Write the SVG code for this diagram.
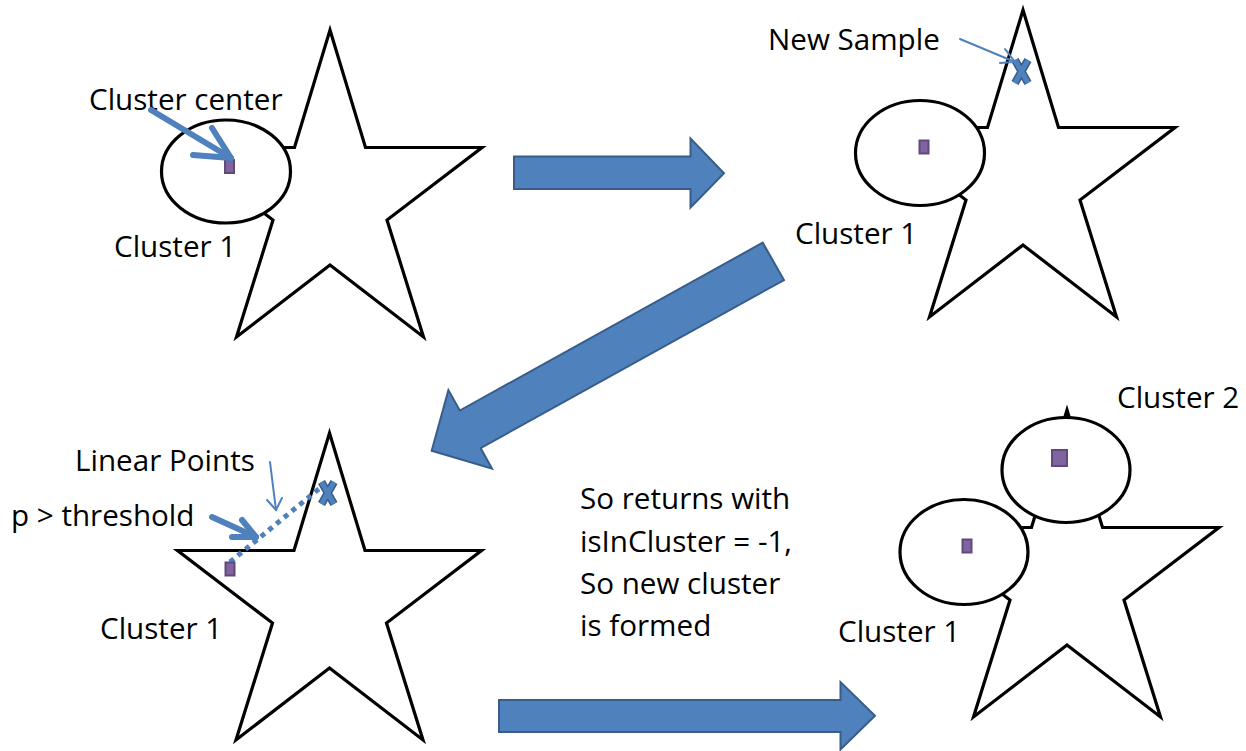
<svg xmlns="http://www.w3.org/2000/svg" width="1246" height="751" viewBox="0 0 1246 751">
  <style>
    .star { fill: #ffffff; stroke: #000000; stroke-width: 3.2; stroke-linejoin: miter; }
    .zone { fill: #ffffff; stroke: #000000; stroke-width: 3.2; }
    .center { fill: #8064a2; stroke: #5f4a7a; stroke-width: 2; }
    .label { font-family: "Open Sans", "Liberation Sans", sans-serif; font-size: 29.6px; fill: #000000; }
    .bigarrow { fill: #4f81bd; stroke: #385d8a; stroke-width: 2; stroke-linejoin: miter; }
    .pointer { fill: none; stroke: #4f81bd; stroke-width: 6; stroke-linecap: round; stroke-linejoin: round; }
    .thin { fill: none; stroke: #4f81bd; stroke-width: 2; stroke-linecap: round; }
    .xout { fill: none; stroke: #385d8a; stroke-width: 8; stroke-linecap: butt; }
    .xin { fill: none; stroke: #4f81bd; stroke-width: 5; stroke-linecap: butt; }
    .dots { fill: none; stroke: #4f81bd; stroke-width: 5; stroke-dasharray: 5 5; }
  </style>
  <defs>
    <path id="star5" d="M152,0 L187.5,117.5 L304,117.5 L209,190 L245.5,307 L152,235 L58.5,307 L95,190 L0,117.5 L116.5,117.5 Z"/>
  </defs>
  <rect width="1246" height="751" fill="#ffffff"/>

  <!-- step 1: first cluster and its center -->
  <g id="step1">
    <use href="#star5" class="star" transform="translate(178,30)"/>
    <ellipse class="zone" cx="226" cy="171.5" rx="64.5" ry="51.5"/>
    <rect class="center" x="225" y="160" width="9" height="13"/>
    <text class="label" x="89" y="110">Cluster center</text>
    <text class="label" x="114" y="257">Cluster 1</text>
    <g class="pointer">
      <line x1="151" y1="110" x2="231" y2="158"/>
      <polyline points="193,155 231,158 212,128"/>
    </g>
  </g>

  <!-- step 2: a new sample arrives -->
  <g id="step2">
    <use href="#star5" class="star" transform="translate(871,10)"/>
    <ellipse class="zone" cx="920" cy="153" rx="64.5" ry="52.5"/>
    <rect class="center" x="919.5" y="140.5" width="9" height="13"/>
    <g>
      <path class="xout" d="M1015,60 L1028,83 M1028,60 L1015,83"/>
      <path class="xin" d="M1015,60 L1028,83 M1028,60 L1015,83"/>
    </g>
    <text class="label" x="768" y="50">New Sample</text>
    <text class="label" x="795" y="244">Cluster 1</text>
    <g class="thin">
      <line x1="960" y1="39" x2="1015" y2="62"/>
      <polyline points="1005,49 1015,62 1000,63"/>
    </g>
  </g>

  <!-- step 3: distance check along the linear points -->
  <g id="step3">
    <use href="#star5" class="star" transform="translate(177.5,433)"/>
    <line class="dots" x1="230" y1="562" x2="320" y2="488"/>
    <g>
      <path class="xout" d="M321.5,482 L334,504 M334,482 L321.5,504"/>
      <path class="xin" d="M321.5,482 L334,504 M334,482 L321.5,504"/>
    </g>
    <rect class="center" x="225.5" y="562.5" width="9" height="13"/>
    <text class="label" x="75" y="471">Linear Points</text>
    <text class="label" x="11" y="526">p &gt; threshold</text>
    <text class="label" x="100" y="639">Cluster 1</text>
    <g class="pointer">
      <line x1="212" y1="517" x2="256" y2="537"/>
      <polyline points="232,537 256,537 242,520"/>
    </g>
    <g class="thin">
      <line x1="270" y1="462" x2="276" y2="510"/>
      <polyline points="267,500 276,510 282,498"/>
    </g>
  </g>

  <!-- explanation -->
  <g id="note">
    <text class="label" x="580" y="509">So returns with</text>
    <text class="label" x="580" y="552">isInCluster = -1,</text>
    <text class="label" x="580" y="594">So new cluster</text>
    <text class="label" x="580" y="636">is formed</text>
  </g>

  <!-- step 4: second cluster created -->
  <g id="step4">
    <use href="#star5" class="star" transform="translate(915,410)"/>
    <ellipse class="zone" cx="964" cy="552" rx="64" ry="52.5"/>
    <ellipse class="zone" cx="1066" cy="470" rx="64" ry="52.5"/>
    <rect class="center" x="962.5" y="539.5" width="9" height="13"/>
    <rect class="center" x="1052" y="450" width="15" height="16"/>
    <text class="label" x="1117" y="408">Cluster 2</text>
    <text class="label" x="838" y="642">Cluster 1</text>
  </g>

  <!-- flow between the steps -->
  <g id="connectors">
    <polygon class="bigarrow" points="514,156.5 690.5,156.5 690.5,138.5 724,173.3 690.5,207.5 690.5,189 514,189"/>
    <polygon class="bigarrow" points="431.7,450.7 448.4,390 459.8,410.5 762.7,242.7 784,280 480.6,448.1 492,468.6"/>
    <polygon class="bigarrow" points="499,700 840.5,700 840.5,682 875,715.7 840.5,749.5 840.5,732 499,732"/>
  </g>
</svg>
